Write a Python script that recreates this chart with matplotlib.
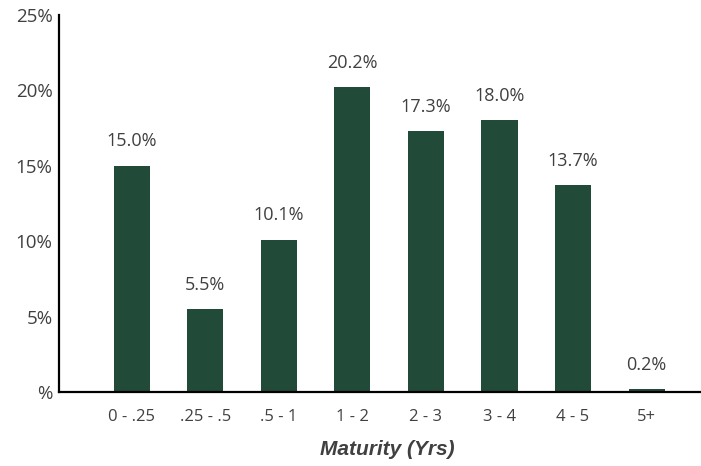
import numpy as np
import matplotlib.pyplot as plt

# Maturity buckets and share of portfolio (%)
categories = ["0 - .25", ".25 - .5", ".5 - 1", "1 - 2", "2 - 3", "3 - 4", "4 - 5", "5+"]
values = [15.0, 5.5, 10.1, 20.2, 17.3, 18.0, 13.7, 0.2]
yticks = [0, 5, 10, 15, 20, 25]
ytick_labels = ["%", "5%", "10%", "15%", "20%", "25%"]

bar_color = "#224a38"
text_color = "#404040"

fig = plt.figure(figsize=(7.01, 4.66), dpi=100)
ax = fig.add_axes([0.084, 0.159, 0.915, 0.809])

x = np.arange(len(categories))
ax.bar(x, values, width=0.49, color=bar_color)

for xi, v in zip(x, values):
    ax.annotate(f"{v:.1f}%", (xi, v), xytext=(0, 11), textcoords="offset points",
                ha="center", va="bottom", fontsize=13, color=text_color,
                family="Open Sans")

ax.set_xlim(-0.99, 7.73)
ax.set_ylim(0, 25)
ax.set_xticks(x)
ax.set_xticklabels(categories, fontsize=12, color=text_color, family="Open Sans")
ax.set_yticks(yticks)
ax.set_yticklabels(ytick_labels, fontsize=13.5, color=text_color, family="Open Sans")
ax.tick_params(axis="both", length=0)
ax.tick_params(axis="x", pad=12)
ax.tick_params(axis="y", pad=4.5)

for s in ["top", "right"]:
    ax.spines[s].set_visible(False)
for s in ["left", "bottom"]:
    ax.spines[s].set_linewidth(1.6)
    ax.spines[s].set_color("black")

ax.set_xlabel("Maturity (Yrs)", fontsize=15, fontweight="bold", style="italic",
              color=text_color, family="Liberation Sans")
ax.xaxis.set_label_coords(0.512, -0.128)

fig.savefig("out.png", dpi=100)
